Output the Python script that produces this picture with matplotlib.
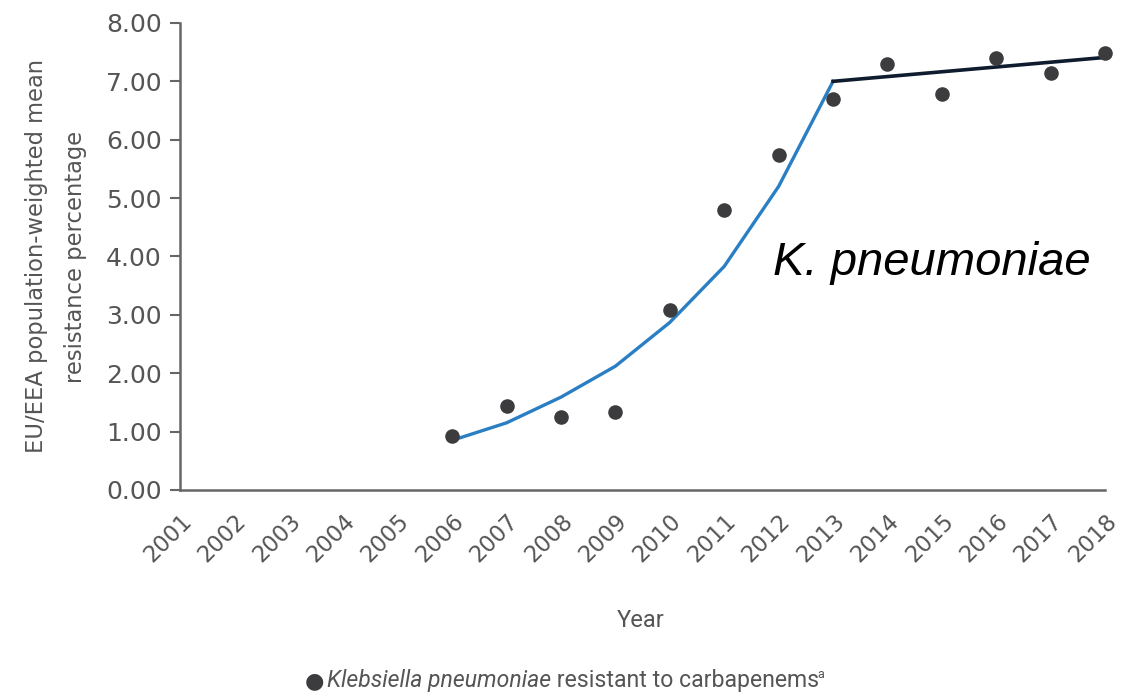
import matplotlib
matplotlib.use("Agg")
import matplotlib.pyplot as plt

# Observed resistance percentages
years = list(range(2001, 2019))
obs_years = [2006, 2007, 2008, 2009, 2010, 2011, 2012, 2013, 2014, 2015, 2016, 2017, 2018]
obs_values = [0.93, 1.44, 1.25, 1.34, 3.08, 4.79, 5.74, 6.70, 7.29, 6.78, 7.40, 7.14, 7.48]

# Fitted trend segments
fit1_years = [2006, 2007, 2008, 2009, 2010, 2011, 2012, 2013]
fit1_values = [0.85, 1.15, 1.59, 2.12, 2.87, 3.83, 5.20, 7.00]
fit2_years = [2013, 2018]
fit2_values = [7.00, 7.41]

y_ticks = [0, 1, 2, 3, 4, 5, 6, 7, 8]

TEXT = "#555555"
AXIS = "#666666"
DOT = "#3c3c3e"

fig = plt.figure(figsize=(11.22, 6.96), dpi=100)
ax = fig.add_axes([0.1604, 0.296, 0.8246, 0.671])

ax.plot(fit1_years, fit1_values, color="#2a7ec3", lw=2.4, zorder=2)
ax.plot(fit2_years, fit2_values, color="#0f1c2e", lw=2.6, zorder=2)
ax.scatter(obs_years, obs_values, s=110, color=DOT, zorder=3, clip_on=False, linewidths=0)

ax.set_xlim(2001, 2018)
ax.set_ylim(0, 8)
ax.set_yticks(y_ticks)
ax.set_yticklabels([f"{v:.2f}" for v in y_ticks], fontsize=18, color=TEXT, family="DejaVu Sans")
ax.set_xticks(years)
ax.set_xticklabels([str(y) for y in years], rotation=45, ha="right", rotation_mode="anchor",
                   fontsize=16.3, color=TEXT, family="DejaVu Sans")
ax.tick_params(axis="y", length=7, width=1.5, color=AXIS, pad=6)
ax.tick_params(axis="x", length=0, pad=14)

for side in ("top", "right"):
    ax.spines[side].set_visible(False)
for side in ("left", "bottom"):
    ax.spines[side].set_color(AXIS)
    ax.spines[side].set_linewidth(1.8)

ax.set_ylabel("EU/EEA population-weighted mean\nresistance percentage", fontsize=16.3,
              color=TEXT, family="DejaVu Sans", linespacing=1.85, labelpad=14)

ax.text(2011.9, 3.68, "K. pneumoniae", fontsize=34, style="italic", family="Liberation Sans",
        color="black", ha="left", va="baseline")

fig.text(0.571, 0.109, "Year", fontsize=17, color=TEXT, family="Roboto", ha="center", va="center")

# Legend line: marker, italic species name, plain text, superscript
y_leg = 0.012
t0 = fig.text(0.272, y_leg, "\u25cf", fontsize=16, color=DOT, va="baseline", family="DejaVu Sans")
t1 = ax.annotate("Klebsiella pneumoniae", xy=(1, 0), xycoords=t0, xytext=(2, 0),
                 textcoords="offset points", fontsize=16.6, style="italic", color=TEXT,
                 family="Roboto", va="bottom", annotation_clip=False)
t2 = ax.annotate(" resistant to carbapenems", xy=(1, 0), xycoords=t1, xytext=(0, 0),
                 textcoords="offset points", fontsize=16.6, color=TEXT, family="Roboto",
                 va="bottom", annotation_clip=False)
ax.annotate("a", xy=(1, 1), xycoords=t2, xytext=(-1.5, -9), textcoords="offset points",
            fontsize=9, color=TEXT, family="Roboto", va="bottom", annotation_clip=False)

fig.savefig("out.png", dpi=100)
